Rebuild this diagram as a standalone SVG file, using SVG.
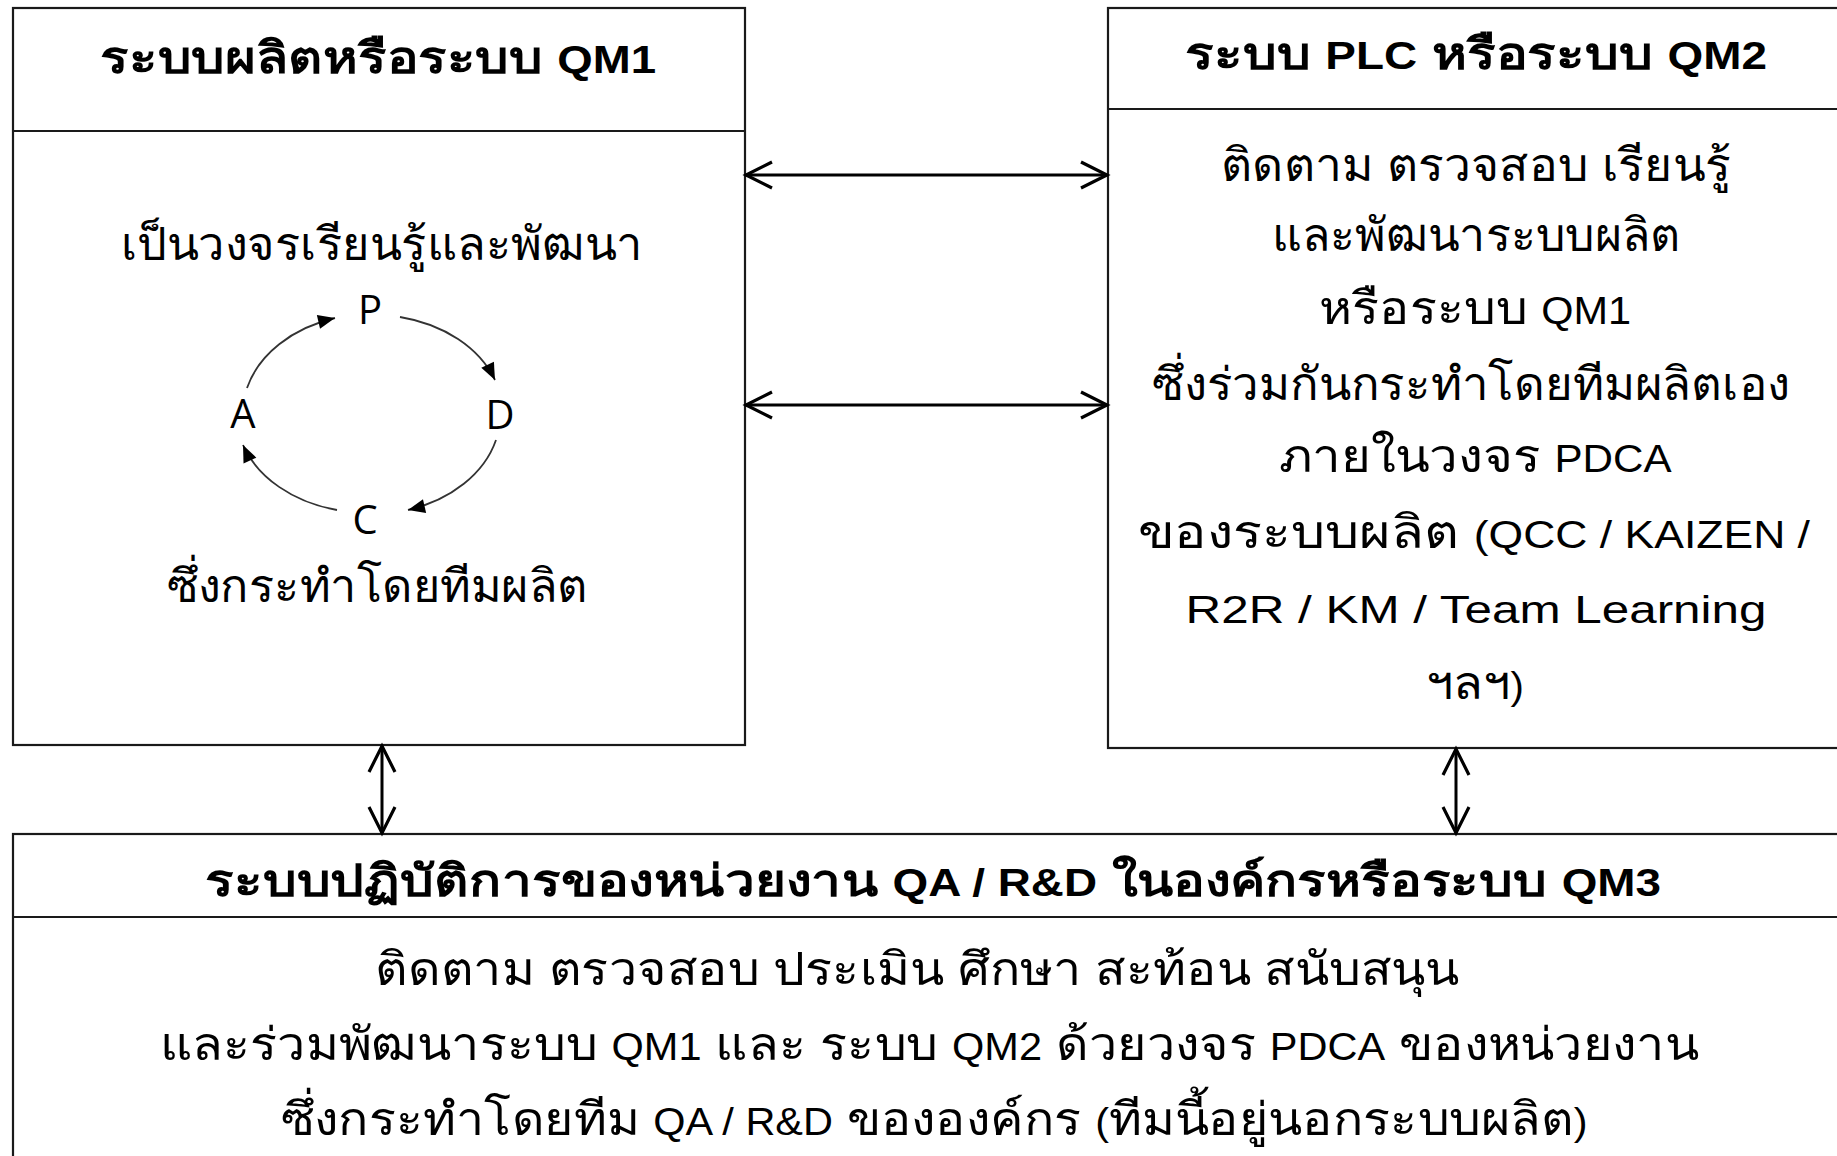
<svg xmlns="http://www.w3.org/2000/svg" width="1837" height="1156" viewBox="0 0 1837 1156">
<style>
.box{fill:#fff;stroke:#1a1a1a;stroke-width:2.2}
.div{stroke:#1a1a1a;stroke-width:2.2}
.title{font-family:"Liberation Sans","Noto Sans",sans-serif;font-weight:bold;font-size:44px;fill:#000;text-anchor:middle}
.title .l{font-size:38px}
.body{font-family:"Liberation Sans","Noto Sans",sans-serif;font-size:46px;fill:#000;text-anchor:middle}
.body .l{font-size:38px}
.pdca{font-family:"Open Sans","Noto Sans",sans-serif;font-size:40px;fill:#000;text-anchor:middle}
.conn{fill:none;stroke:#000;stroke-width:3}
.cyc{fill:none;stroke:#333;stroke-width:1.8}
</style>
<defs>
<marker id="open" viewBox="-30 -16 34 32" refX="0" refY="0" markerWidth="34" markerHeight="32" markerUnits="userSpaceOnUse" orient="auto-start-reverse">
<path d="M-26,-13 L0,0 L-26,13" fill="none" stroke="#000" stroke-width="3.2"/>
</marker>
<marker id="tri" viewBox="-18 -8 20 16" refX="0" refY="0" markerWidth="20" markerHeight="16" markerUnits="userSpaceOnUse" orient="auto">
<path d="M-17,-7 L0,0 L-17,7 Z" fill="#000"/>
</marker>
</defs>
<rect width="1837" height="1156" fill="#fff"/>

<g id="qm1">
<rect class="box" x="13" y="8" width="732" height="737"/>
<line class="div" x1="13" y1="131" x2="745" y2="131"/>
<text class="title" x="378" y="73" textLength="556" lengthAdjust="spacingAndGlyphs">ระบบผลิตหรือระบบ <tspan class="l">QM1</tspan></text>
<text class="body" x="382" y="260" textLength="522" lengthAdjust="spacingAndGlyphs">เป็นวงจรเรียนรู้และพัฒนา</text>
<text class="body" x="377" y="602" textLength="421" lengthAdjust="spacingAndGlyphs">ซึ่งกระทำโดยทีมผลิต</text>
<g id="pdca">
<text class="pdca" x="370" y="324">P</text>
<text class="pdca" x="500" y="429">D</text>
<text class="pdca" x="365" y="534">C</text>
<text class="pdca" x="243" y="428">A</text>
<path class="cyc" d="M247,388 A130,100 0 0 1 335,318" marker-end="url(#tri)"/>
<path class="cyc" d="M400,317 A130,100 0 0 1 495,380" marker-end="url(#tri)"/>
<path class="cyc" d="M496,440 A130,100 0 0 1 408,510" marker-end="url(#tri)"/>
<path class="cyc" d="M337,510 A130,100 0 0 1 243,445" marker-end="url(#tri)"/>
</g>
</g>

<g id="qm2">
<rect class="box" x="1108" y="8" width="740" height="740"/>
<line class="div" x1="1108" y1="109" x2="1848" y2="109"/>
<text class="title" x="1476" y="69" textLength="582" lengthAdjust="spacingAndGlyphs">ระบบ <tspan class="l">PLC</tspan> หรือระบบ <tspan class="l">QM2</tspan></text>
<text class="body" x="1476" y="181" textLength="510" lengthAdjust="spacingAndGlyphs">ติดตาม ตรวจสอบ เรียนรู้</text>
<text class="body" x="1476" y="251" textLength="409" lengthAdjust="spacingAndGlyphs">และพัฒนาระบบผลิต</text>
<text class="body" x="1475" y="324" textLength="312" lengthAdjust="spacingAndGlyphs">หรือระบบ <tspan class="l">QM1</tspan></text>
<text class="body" x="1471" y="400" textLength="638" lengthAdjust="spacingAndGlyphs">ซึ่งร่วมกันกระทำโดยทีมผลิตเอง</text>
<text class="body" x="1475" y="472" textLength="393" lengthAdjust="spacingAndGlyphs">ภายในวงจร <tspan class="l">PDCA</tspan></text>
<text class="body" x="1474" y="548" textLength="672" lengthAdjust="spacingAndGlyphs">ของระบบผลิต <tspan class="l">(QCC / KAIZEN /</tspan></text>
<text class="body" x="1476" y="623" textLength="581" lengthAdjust="spacingAndGlyphs"><tspan class="l">R2R / KM / Team Learning</tspan></text>
<text class="body" x="1475" y="699" textLength="98" lengthAdjust="spacingAndGlyphs">ฯลฯ<tspan class="l">)</tspan></text>
</g>

<g id="qm3">
<rect class="box" x="13" y="834" width="1840" height="340"/>
<line class="div" x1="13" y1="917" x2="1853" y2="917"/>
<text class="title" x="933" y="896" textLength="1456" lengthAdjust="spacingAndGlyphs">ระบบปฏิบัติการของหน่วยงาน <tspan class="l">QA / R&amp;D</tspan> ในองค์กรหรือระบบ <tspan class="l">QM3</tspan></text>
<text class="body" x="917" y="985" textLength="1084" lengthAdjust="spacingAndGlyphs">ติดตาม ตรวจสอบ ประเมิน ศึกษา สะท้อน สนับสนุน</text>
<text class="body" x="929" y="1060" textLength="1539" lengthAdjust="spacingAndGlyphs">และร่วมพัฒนาระบบ <tspan class="l">QM1</tspan> และ ระบบ <tspan class="l">QM2</tspan> ด้วยวงจร <tspan class="l">PDCA</tspan> ของหน่วยงาน</text>
<text class="body" x="934" y="1135" textLength="1307" lengthAdjust="spacingAndGlyphs">ซึ่งกระทำโดยทีม <tspan class="l">QA / R&amp;D</tspan> ขององค์กร <tspan class="l">(</tspan>ทีมนี้อยู่นอกระบบผลิต<tspan class="l">)</tspan></text>
</g>

<g id="connectors">
<line class="conn" x1="746" y1="175" x2="1107" y2="175" marker-start="url(#open)" marker-end="url(#open)"/>
<line class="conn" x1="746" y1="405" x2="1107" y2="405" marker-start="url(#open)" marker-end="url(#open)"/>
<line class="conn" x1="382" y1="746" x2="382" y2="833" marker-start="url(#open)" marker-end="url(#open)"/>
<line class="conn" x1="1456" y1="749" x2="1456" y2="833" marker-start="url(#open)" marker-end="url(#open)"/>
</g>
</svg>
